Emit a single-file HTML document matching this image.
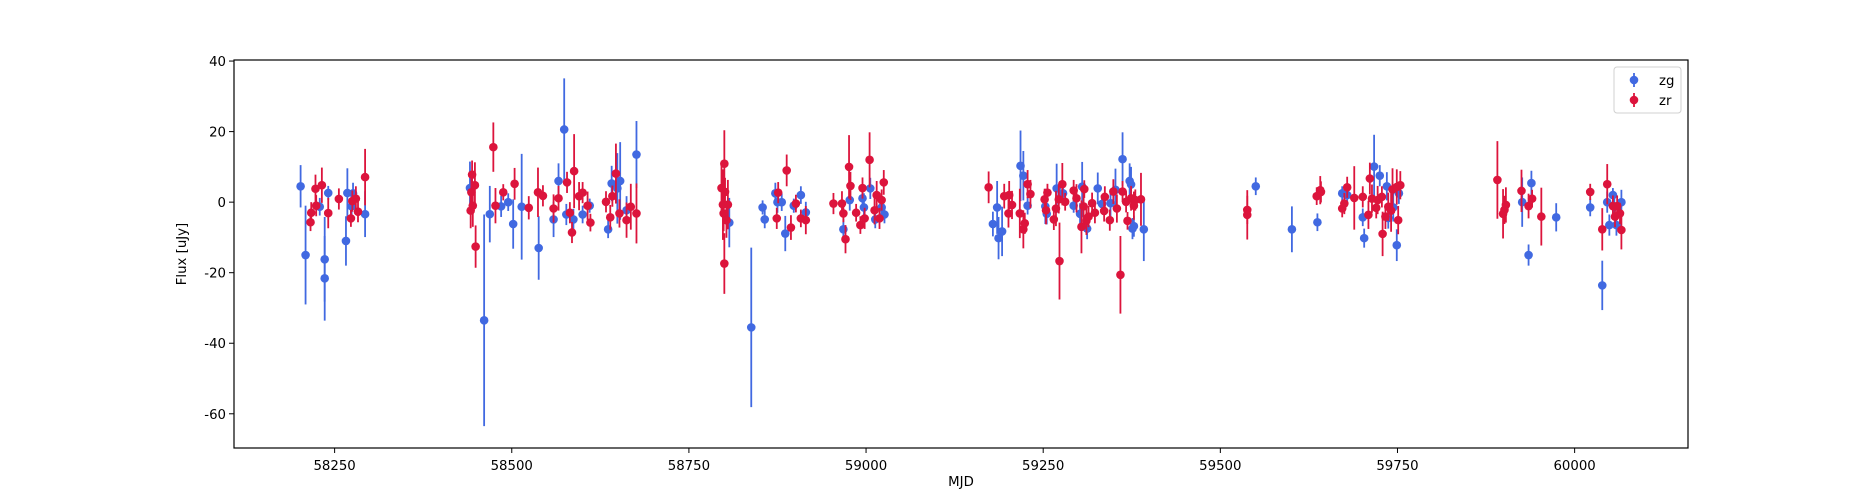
<!DOCTYPE html>
<html><head><meta charset="utf-8"><style>
html,body{margin:0;padding:0;background:#fff}
svg{display:block;font-family:"DejaVu Sans","Liberation Sans",sans-serif}
</style></head><body>
<svg id="chart" width="1875" height="500" xmlns="http://www.w3.org/2000/svg"></svg>
<script>
const xTicks=[58250,58500,58750,59000,59250,59500,59750,60000];
const yTicks=[-60,-40,-20,0,20,40];
const zgMjd=[58202,58209,58229,58236,58236,58241,58266,58268,58274,58276,58293,
58441,58461,58469,58485,58495,58502,58514,58538,
58559,58566,58574,58577,58587,58600,58610,58636,58641,58649,58653,58662,58676,
58807,58838,58854,58857,58872,58875,58881,58886,58898,58908,58915,
58968,58977,58995,58997,59006,59013,59022,59026,
59179,59185,59187,59192,59218,59222,59228,59253,59255,59269,59278,59293,59302,59305,59312,59327,59333,59345,59352,59362,59372,59374,59376,59378,59392,
59550,59601,59637,59672,59679,59701,59703,59717,59725,59735,59737,59744,59749,59752,
59926,59935,59939,59974,60022,60039,60046,60049,60054,60056,60059,60066];
const zgFlux=[4.5,-15,-1.3,-16.2,-21.6,2.6,-11,2.6,-1.2,2.5,-3.4,
4,-33.5,-3.4,-1.2,0,-6.2,-1.3,-13,
-4.9,6,20.6,-3.5,-4.9,-3.5,-1,-7.7,5.3,3.9,6,-2.3,13.5,
-5.8,-35.5,-1.5,-4.9,2.5,0,0,-8.9,-1,2,-2.9,
-7.7,0.6,1.1,-1.5,3.9,-4.9,-1.5,-3.5,
-6.2,-1.5,-10.2,-8.3,10.3,7.5,-1,-1.2,-3.3,3.9,2.5,-1,-3.3,4.4,-7.5,3.9,-0.5,-0.3,3.5,12.2,6,5,-7.5,-6.8,-7.7,
4.5,-7.7,-5.7,2.5,2,-4.3,-10.2,10.1,7.5,4.5,-4.5,-1.5,-12.2,2.5,
0,-15,5.4,-4.3,-1.5,-23.6,0,-6.5,2,-1.3,-6.5,0];
const zgErr=[6,14,2.5,12,12,2,7,7,3,3,6.5,
7.5,30,8,3,2.5,7,15,9,
5,5,14.5,3,3,2.5,2,2.5,5,10,11,4,9.5,
7,22.6,2,2.5,3,3,2.5,5,2,2.5,3,
3,3,3,4,3,2.5,2.5,2.5,
3.5,7.5,6,7,10,7,2.5,5,3,7,3,2,3,7,3,4.5,2,4,6,7.6,5,5,3,3,9,
2.5,6.5,2.5,2,2,2.5,2.7,9,3,4,3,4,4.5,3,
7,3,3.5,4,2.5,7,3,3,2,3,3,3.5];
const zrMjd=[58216,58217,58223,58224,58232,58241,58256,58273,58275,58280,58283,58293,
58442,58443,58444,58445,58448,58449,58474,58477,58488,58504,58524,58537,58544,
58559,58566,58578,58582,58585,58588,58595,58600,58607,58611,58633,58639,58642,58647,58652,58662,58668,58676,
58796,58798,58799,58800,58801,58800,58803,58805,58874,58876,58888,58894,58901,58908,58915,
58954,58966,58968,58971,58976,58978,58986,58992,58995,58998,59005,59012,59015,59019,59022,59025,
59173,59195,59201,59202,59206,59217,59222,59224,59228,59232,59252,59254,59256,59265,59268,59272,59273,59277,59281,59293,59297,59304,59307,59308,59311,59314,59319,59323,59337,59336,59344,59349,59354,59359,59362,59367,59369,59374,59378,59380,59388,
59538,59538,59636,59641,59642,59672,59675,59679,59689,59701,59709,59711,59714,59720,59722,59728,59729,59733,59737,59741,59743,59749,59751,59754,
59891,59899,59901,59903,59925,59935,59940,59953,60022,60039,60046,60054,60057,60060,60064,60066];
const zrFlux=[-5.7,-3,3.8,-1,4.8,-3.1,0.9,-4.6,0.3,1,-2.7,7.1,
-2.4,2.8,7.8,-1,4.8,-12.6,15.6,-1,2.8,5.2,-1.6,2.8,1.8,
-1.8,1.1,5.6,-3,-8.6,8.8,1.7,2.7,-1,-5.8,0.1,-4.3,1.7,8.1,-3.2,-5.1,-1.3,-3.2,
4,-0.7,-3.2,10.9,2.9,-17.4,-5.1,-0.7,-4.6,2.7,9,-7.2,-0.4,-4.6,-5.1,
-0.4,-0.4,-3.2,-10.5,10,4.6,-3,-6.5,4,-4.6,12,-2.3,2,-4.6,0.6,5.6,
4.2,1.7,-3.2,2,-0.8,-3.2,-7.7,-6,5.1,2.3,0.8,-2.3,2.7,-4.9,-1.8,0.8,-16.7,5.1,0.1,3.3,1.1,-7,-1.2,3.7,-5.3,-4.1,-0.3,-3,1.5,-2.5,-5.1,3,-1.8,-20.6,3,0.1,-5.3,1.1,-1,0.6,0.8,
-2.2,-3.6,1.7,3.4,2.9,-1.8,-0.4,4.2,1.2,1.5,-3.6,6.7,1,-1.6,0.6,1.5,-9,-4.1,-1.3,-2.4,3.6,4.3,-5.1,4.8,
6.3,-3.3,-2.2,-0.8,3.2,-1.1,1,-4.1,2.9,-7.7,5.1,-1.1,-4.1,-1.1,-3.2,-7.9];
const zrErr=[2.5,3,4,3,5,4.3,3,2.4,3,3.5,3,8,
5,5,4,6,6.5,6,7,5,2.3,4.5,3.3,7,3,
4,3.5,3,3,3,10.5,4,3,4,2.5,3,3.5,3,8.5,4,5,6.5,8.5,
7,10,5,9.5,4,8.6,5,7,3,3,4.5,3.5,2.5,2.5,4,
3,3.5,2.5,4,9,4,2.5,2.5,3,3,7.8,4,4,3,3,3.5,
4.5,3.5,4,4,4,7,5.4,3,4,4,3,4,2.5,3,5,4,10.9,6,2.5,3,4,7.5,6,2.5,4,3,3,3,3,3,3,3.5,4,11,3,3,2.5,3.5,4,3,7.5,
4,7,2.5,4,3,2.5,3,3,9,3,4,4.5,4,3,4,3,6.3,3.5,4,6,6,5,4,4,
11,7,4,5,6,3.5,2.5,8.2,2.3,6,5.7,3,3,3,3,5.5];

const NS='http://www.w3.org/2000/svg';
const svg=document.getElementById('chart');
const L=234,R=1688,T=60,B=448;
const xMin=58108,xMax=60160,yMin=-69.7,yMax=40.3;
const xs=m=>L+(m-xMin)/(xMax-xMin)*(R-L);
const ys=v=>B-(v-yMin)/(yMax-yMin)*(B-T);
function mk(tag,attrs,parent){const e=document.createElementNS(NS,tag);for(const k in attrs)e.setAttribute(k,attrs[k]);(parent||svg).appendChild(e);return e;}

const plot=mk('g',{});


function series(mjd,flux,err,color,name){
  const g=mk('g',{},plot);
  
  
  for(let i=0;i<mjd.length;i++){
    const x=xs(mjd[i]);
    const l=mk('line',{x1:x,x2:x,y1:ys(flux[i]-err[i]),y2:ys(flux[i]+err[i]),stroke:color,'stroke-width':1.8},g);
    
    
    const c=mk('circle',{cx:x,cy:ys(flux[i]),r:4.3,fill:color},g);
    
    
  }
}
series(zgMjd,zgFlux,zgErr,'#4169e1','zg');
series(zrMjd,zrFlux,zrErr,'#dc143c','zr');

const frame=mk('rect',{x:L,y:T,width:R-L,height:B-T,fill:'none',stroke:'#000','stroke-width':1.2});



xTicks.forEach(t=>{
  const x=xs(t);
  const tk=mk('line',{x1:x,x2:x,y1:B,y2:B+5,stroke:'#000','stroke-width':1});
  
  
  const tx=mk('text',{x:x,y:B+22,'text-anchor':'middle','font-size':13.3,fill:'#000'});
  tx.textContent=t;
  
  
});
yTicks.forEach(t=>{
  const y=ys(t);
  const tk=mk('line',{x1:L-5,x2:L,y1:y,y2:y,stroke:'#000','stroke-width':1});
  
  
  const tx=mk('text',{x:L-8,y:y+5,'text-anchor':'end','font-size':13.3,fill:'#000'});
  tx.textContent=t;
  
  
});
const xl=mk('text',{x:(L+R)/2,y:486,'text-anchor':'middle','font-size':13.3,fill:'#000'});
xl.textContent='MJD';


const yl=mk('text',{x:0,y:0,'text-anchor':'middle','font-size':13.3,fill:'#000',transform:`translate(186,${(T+B)/2}) rotate(-90)`});
yl.textContent='Flux [uJy]';



const lg=mk('g',{});


mk('rect',{x:1614,y:67,width:67,height:46,rx:3,fill:'#fff',stroke:'#d0d0d0','stroke-width':1},lg);
[['zg','#4169e1',80],['zr','#dc143c',100]].forEach(([n,c,y])=>{
  const e=mk('g',{},lg);
  
  
  mk('line',{x1:1634,x2:1634,y1:y-7,y2:y+7,stroke:c,'stroke-width':1.8},e);
  mk('circle',{cx:1634,cy:y,r:4.3,fill:c},e);
  const t=mk('text',{x:1659,y:y+5,'font-size':13.3,fill:'#000'},e);
  t.textContent=n;
});
</script>
</body></html>
